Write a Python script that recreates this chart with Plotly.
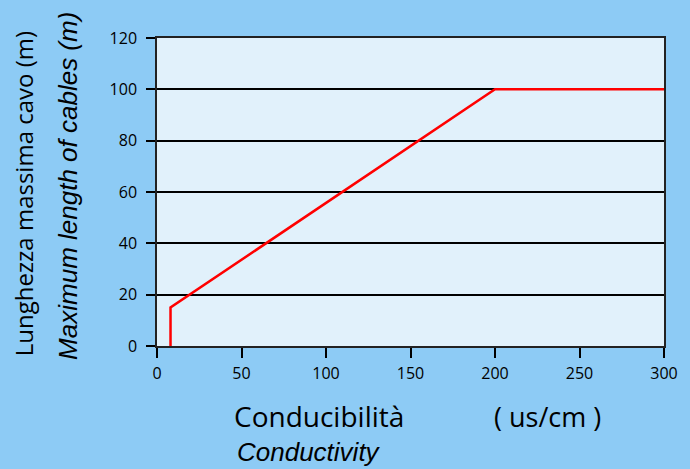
import plotly.graph_objects as go

conductivity = [8, 8, 200, 300]
max_length = [0, 15, 100, 100]
x_ticks = [0, 50, 100, 150, 200, 250, 300]
y_ticks = [0, 20, 40, 60, 80, 100, 120]

BG = "#8DCBF5"
PLOT_BG = "#E1F1FB"
FONT = "Open Sans"
NARROW = "Liberation Sans Narrow, Liberation Sans"

fig = go.Figure()
fig.add_trace(go.Scatter(x=conductivity, y=max_length, mode="lines",
                         line=dict(color="#FF0000", width=2.5), showlegend=False))

fig.update_layout(
    width=690, height=469,
    margin=dict(l=157, r=18, t=38, b=123),
    paper_bgcolor=BG, plot_bgcolor=PLOT_BG,
    font=dict(family=FONT, color="#000000", size=16),
    xaxis=dict(range=[0, 300], tickvals=x_ticks, showgrid=False, zeroline=False,
               showline=True, linecolor="#222222", linewidth=1.5, mirror=True,
               ticks="outside", ticklen=10, tickwidth=2, tickcolor="#000000",
               ticklabelstandoff=2,
               tickfont=dict(family=FONT, size=16)),
    yaxis=dict(range=[0, 120], tickvals=y_ticks, showgrid=True, gridcolor="#000000",
               gridwidth=1.5, zeroline=False,
               showline=True, linecolor="#222222", linewidth=1.5, mirror=True,
               ticks="outside", ticklen=9, tickwidth=2, tickcolor="#000000",
               ticklabelstandoff=6,
               tickfont=dict(family=FONT, size=16)),
    annotations=[
        dict(text="Lunghezza massima cavo (m)", xref="paper", yref="paper",
             x=-157/512 + 22/512, y=(346-194)/308, textangle=-90, showarrow=False,
             xanchor="center", yanchor="middle",
             font=dict(family=FONT, size=24, color="#000000")),
        dict(text="<i>Maximum length of cables (m)</i>", xref="paper", yref="paper",
             x=-157/512 + 67/512, y=(346-186)/308, textangle=-90, showarrow=False,
             xanchor="center", yanchor="middle",
             font=dict(family=NARROW, size=26, color="#000000")),
        dict(text="Conducibilità", xref="paper", yref="paper",
             x=(233-157)/512, y=-(416-346)/308, showarrow=False,
             xanchor="left", yanchor="middle",
             font=dict(family=FONT, size=28, color="#000000")),
        dict(text="( us/cm )", xref="paper", yref="paper",
             x=(495-157)/512, y=-(416-346)/308, showarrow=False,
             xanchor="left", yanchor="middle",
             font=dict(family=FONT, size=27, color="#000000")),
        dict(text="<i>Conductivity</i>", xref="paper", yref="paper",
             x=(236-157)/512, y=-(452-346)/308, showarrow=False,
             xanchor="left", yanchor="middle",
             font=dict(family=NARROW, size=26, color="#000000")),
    ],
)

fig.write_html("out.html", config={"displayModeBar": False},
               post_script="document.body.style.margin='0';document.body.style.padding='0';")
